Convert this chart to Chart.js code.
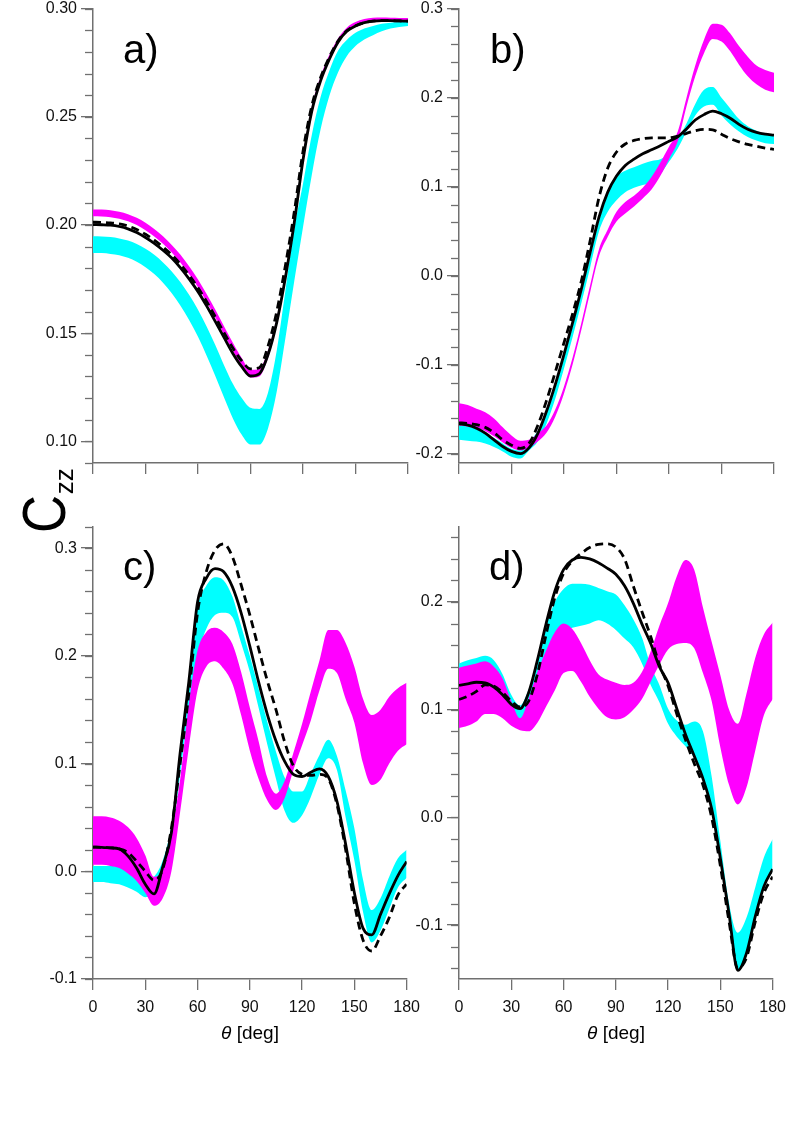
<!DOCTYPE html>
<html>
<head>
<meta charset="utf-8">
<script src="https://cdn.jsdelivr.net/npm/chart.js@4.4.1/dist/chart.umd.min.js"></script>
<style>
  body { margin: 0; width: 801px; height: 1144px; background: #fff; position: relative; overflow: hidden;
         font-family: "Liberation Sans", Arial, sans-serif; color: #000; }
  canvas { position: absolute; }
  .tag { position: absolute; font-size: 40px; line-height: 40px; }
  .xt { position: absolute; width: 200px; text-align: center; font-size: 19px; line-height: 20px; }
  .czz { position: absolute; left: 13px; top: 533px; transform-origin: 0 0; transform: rotate(-90deg);
         font-size: 62px; line-height: 62px; white-space: nowrap; }
  .czz .c { display: inline-block; transform: scaleX(0.85); transform-origin: 0 0; }
  .czz .zz { font-size: 26px; position: relative; top: 8px; margin-left: -6px; }
</style>
</head>
<body>
<canvas id="pa" width="428" height="488" style="left:0px;top:-5px"></canvas>
<canvas id="pb" width="428" height="488" style="left:366px;top:-5px"></canvas>
<canvas id="pc" width="428" height="526" style="left:0px;top:513px"></canvas>
<canvas id="pd" width="428" height="526" style="left:366px;top:513px"></canvas>

<div class="tag" style="left:123px;top:29px">a)</div>
<div class="tag" style="left:490px;top:29px">b)</div>
<div class="tag" style="left:123px;top:546px">c)</div>
<div class="tag" style="left:489px;top:546px">d)</div>
<div class="czz"><span class="c">C</span><span class="zz">zz</span></div>
<div class="xt" style="left:150px;top:1023px"><i>θ</i> [deg]</div>
<div class="xt" style="left:516px;top:1023px"><i>θ</i> [deg]</div>

<script>
// scattering angle grid, every 5 degrees
const THETA = [0, 5, 10, 15, 20, 25, 30, 35, 40, 45, 50, 55, 60, 65, 70, 75, 80, 85, 90,
               95, 100, 105, 110, 115, 120, 125, 130, 135, 140, 145, 150, 155, 160, 165, 170, 175, 180];
const X_TICKS = [0, 30, 60, 90, 120, 150, 180];

// panel a)
const A_SOLID = [0.2002, 0.2001, 0.1999, 0.1993, 0.1982, 0.1965, 0.1942, 0.1915, 0.1883, 0.1847,
                 0.1802, 0.1750, 0.1692, 0.1625, 0.1552, 0.1478, 0.1405, 0.1345, 0.1302, 0.1312,
                 0.1400, 0.1550, 0.1760, 0.2010, 0.2300, 0.2525, 0.2665, 0.2765, 0.2845, 0.2895,
                 0.2920, 0.2935, 0.2942, 0.2944, 0.2944, 0.2943, 0.2942];
const A_DASH = [0.2013, 0.2012, 0.2010, 0.2005, 0.1995, 0.1979, 0.1957, 0.1930, 0.1898, 0.1862,
                0.1818, 0.1767, 0.1710, 0.1645, 0.1574, 0.1500, 0.1430, 0.1372, 0.1335, 0.1340,
                0.1440, 0.1600, 0.1815, 0.2060, 0.2340, 0.2550, 0.2680, 0.2775, 0.2850, 0.2897,
                0.2921, 0.2935, 0.2942, 0.2944, 0.2944, 0.2943, 0.2942];
const A_MAG_LO = [0.2040, 0.2039, 0.2036, 0.2029, 0.2017, 0.2000, 0.1976, 0.1947, 0.1913, 0.1873,
                  0.1826, 0.1772, 0.1712, 0.1643, 0.1570, 0.1492, 0.1418, 0.1350, 0.1295, 0.1300,
                  0.1385, 0.1535, 0.1745, 0.1995, 0.2290, 0.2515, 0.2660, 0.2763, 0.2845, 0.2898,
                  0.2925, 0.2940, 0.2946, 0.2947, 0.2947, 0.2946, 0.2945];
const A_MAG_HI = [0.2072, 0.2071, 0.2068, 0.2061, 0.2050, 0.2033, 0.2010, 0.1982, 0.1948, 0.1908,
                  0.1862, 0.1808, 0.1748, 0.1680, 0.1607, 0.1530, 0.1455, 0.1385, 0.1330, 0.1335,
                  0.1420, 0.1570, 0.1780, 0.2030, 0.2325, 0.2545, 0.2685, 0.2785, 0.2862, 0.2912,
                  0.2938, 0.2952, 0.2958, 0.2959, 0.2958, 0.2957, 0.2956];
const A_CYAN_LO = [0.1870, 0.1870, 0.1866, 0.1860, 0.1848, 0.1830, 0.1805, 0.1773, 0.1733, 0.1685,
                   0.1627, 0.1560, 0.1483, 0.1395, 0.1300, 0.1200, 0.1105, 0.1030, 0.0985, 0.0985,
                   0.1060, 0.1230, 0.1480, 0.1740, 0.1990, 0.2230, 0.2440, 0.2595, 0.2705, 0.2780,
                   0.2827, 0.2857, 0.2877, 0.2895, 0.2908, 0.2915, 0.2920];
const A_CYAN_HI = [0.1948, 0.1947, 0.1944, 0.1938, 0.1928, 0.1912, 0.1890, 0.1862, 0.1827, 0.1785,
                   0.1735, 0.1676, 0.1608, 0.1530, 0.1443, 0.1350, 0.1265, 0.1200, 0.1155, 0.1150,
                   0.1225, 0.1420, 0.1700, 0.1980, 0.2190, 0.2415, 0.2590, 0.2712, 0.2805, 0.2855,
                   0.2888, 0.2908, 0.2920, 0.2930, 0.2935, 0.2938, 0.2939];

// panel b)
const B_SOLID = [-0.1660, -0.1675, -0.1710, -0.1765, -0.1840, -0.1915, -0.1970, -0.1995, -0.1930, -0.1770,
                 -0.1520, -0.1220, -0.0880, -0.0520, -0.0140, 0.0270, 0.0660, 0.0940, 0.1120, 0.1240,
                 0.1310, 0.1370, 0.1415, 0.1460, 0.1510, 0.1560, 0.1650, 0.1750, 0.1810, 0.1850,
                 0.1820, 0.1770, 0.1700, 0.1645, 0.1610, 0.1590, 0.1580];
const B_DASH = [-0.1650, -0.1655, -0.1670, -0.1700, -0.1760, -0.1840, -0.1900, -0.1935, -0.1880, -0.1680,
                -0.1400, -0.1080, -0.0750, -0.0420, -0.0050, 0.0400, 0.0880, 0.1210, 0.1390, 0.1480,
                0.1520, 0.1540, 0.1550, 0.1550, 0.1550, 0.1570, 0.1600, 0.1630, 0.1645, 0.1640,
                0.1590, 0.1540, 0.1505, 0.1475, 0.1455, 0.1435, 0.1420];
const B_MAG_LO = [-0.168, -0.169, -0.171, -0.174, -0.180, -0.187, -0.193, -0.196, -0.193, -0.186,
                  -0.176, -0.158, -0.132, -0.099, -0.060, -0.018, 0.022, 0.044, 0.061, 0.070,
                  0.078, 0.087, 0.097, 0.112, 0.131, 0.151, 0.190, 0.224, 0.250, 0.266,
                  0.263, 0.252, 0.237, 0.224, 0.215, 0.209, 0.206];
const B_MAG_HI = [-0.143, -0.145, -0.149, -0.153, -0.160, -0.170, -0.179, -0.185, -0.184, -0.177,
                  -0.168, -0.150, -0.124, -0.091, -0.052, -0.010, 0.030, 0.052, 0.072, 0.083,
                  0.090, 0.099, 0.111, 0.127, 0.145, 0.162, 0.200, 0.236, 0.265, 0.283,
                  0.282, 0.272, 0.258, 0.246, 0.236, 0.231, 0.228];
const B_CYAN_LO = [-0.184, -0.185, -0.186, -0.188, -0.192, -0.197, -0.203, -0.205, -0.196, -0.186,
                   -0.166, -0.138, -0.104, -0.068, -0.030, 0.010, 0.050, 0.072, 0.085, 0.094,
                   0.099, 0.102, 0.105, 0.114, 0.128, 0.143, 0.162, 0.180, 0.190, 0.192,
                   0.180, 0.170, 0.162, 0.156, 0.152, 0.149, 0.148];
const B_CYAN_HI = [-0.168, -0.169, -0.172, -0.177, -0.182, -0.188, -0.194, -0.196, -0.186, -0.174,
                   -0.154, -0.126, -0.092, -0.056, -0.018, 0.022, 0.062, 0.092, 0.111, 0.118,
                   0.122, 0.126, 0.129, 0.131, 0.137, 0.153, 0.171, 0.193, 0.209, 0.212,
                   0.200, 0.188, 0.176, 0.168, 0.163, 0.159, 0.157];

// panel c)
const C_SOLID = [0.0224, 0.0222, 0.0217, 0.0208, 0.0143, 0.0030, -0.0120, -0.0210, 0.0040, 0.0360,
                 0.1100, 0.1760, 0.2500, 0.2720, 0.2810, 0.2780, 0.2640, 0.2400, 0.2090, 0.1760,
                 0.1460, 0.1210, 0.1020, 0.0900, 0.0880, 0.0920, 0.0950, 0.0880, 0.0650, 0.0250,
                 -0.0200, -0.0530, -0.0590, -0.0400, -0.0210, -0.0040, 0.0090];
const C_DASH = [0.0224, 0.0222, 0.0218, 0.0208, 0.0175, 0.0094, 0.0000, -0.0084, 0.0020, 0.0400,
                0.1000, 0.1650, 0.2400, 0.2780, 0.2980, 0.3040, 0.2920, 0.2660, 0.2380, 0.2070,
                0.1770, 0.1500, 0.1200, 0.0980, 0.0900, 0.0890, 0.0900, 0.0860, 0.0620, 0.0200,
                -0.0300, -0.0640, -0.0740, -0.0600, -0.0430, -0.0220, -0.0120];
const C_MAG_LO = [0.006, 0.006, 0.005, 0.003, -0.002, -0.009, -0.020, -0.032, -0.025, 0.000,
                  0.055, 0.115, 0.168, 0.190, 0.195, 0.188, 0.174, 0.145, 0.112, 0.086,
                  0.066, 0.057, 0.068, 0.094, 0.117, 0.140, 0.168, 0.188, 0.184, 0.160,
                  0.138, 0.100, 0.080, 0.085, 0.100, 0.112, 0.118];
const C_MAG_HI = [0.051, 0.051, 0.050, 0.047, 0.041, 0.031, 0.015, -0.005, 0.002, 0.035,
                  0.085, 0.155, 0.205, 0.222, 0.226, 0.222, 0.211, 0.185, 0.152, 0.121,
                  0.087, 0.072, 0.084, 0.110, 0.137, 0.167, 0.196, 0.224, 0.224, 0.212,
                  0.190, 0.160, 0.145, 0.150, 0.162, 0.170, 0.175];
const C_CYAN_LO = [-0.010, -0.010, -0.011, -0.012, -0.015, -0.019, -0.024, -0.020, -0.003, 0.028,
                   0.090, 0.150, 0.200, 0.225, 0.238, 0.240, 0.236, 0.212, 0.185, 0.152,
                   0.118, 0.086, 0.056, 0.045, 0.052, 0.069, 0.090, 0.105, 0.094, 0.050,
                   0.010, -0.038, -0.066, -0.055, -0.035, -0.015, -0.006];
const C_CYAN_HI = [0.005, 0.005, 0.005, 0.004, 0.000, -0.004, -0.008, -0.005, 0.010, 0.043,
                   0.110, 0.180, 0.245, 0.265, 0.273, 0.270, 0.255, 0.228, 0.200, 0.170,
                   0.139, 0.111, 0.087, 0.074, 0.074, 0.091, 0.108, 0.122, 0.107, 0.075,
                   0.040, -0.008, -0.036, -0.025, -0.005, 0.012, 0.020];

// panel d)
const D_SOLID = [0.1225, 0.1240, 0.1255, 0.1250, 0.1210, 0.1140, 0.1050, 0.1010, 0.1160, 0.1460,
                 0.1800, 0.2100, 0.2300, 0.2390, 0.2415, 0.2400, 0.2365, 0.2315, 0.2257, 0.2150,
                 0.1990, 0.1795, 0.1615, 0.1400, 0.1250, 0.1010, 0.0770, 0.0570, 0.0360, 0.0080,
                 -0.0380, -0.0900, -0.1420, -0.1260, -0.0920, -0.0640, -0.0480];
const D_DASH = [0.1095, 0.1125, 0.1170, 0.1230, 0.1220, 0.1160, 0.1080, 0.1025, 0.1080, 0.1330,
                0.1700, 0.2040, 0.2265, 0.2380, 0.2450, 0.2505, 0.2535, 0.2540, 0.2510, 0.2400,
                0.2150, 0.1910, 0.1680, 0.1420, 0.1220, 0.0960, 0.0720, 0.0500, 0.0300, 0.0000,
                -0.0450, -0.0970, -0.1400, -0.1300, -0.0970, -0.0700, -0.0550];
const D_MAG_LO = [0.083, 0.085, 0.089, 0.096, 0.096, 0.092, 0.085, 0.081, 0.080, 0.088,
                  0.103, 0.118, 0.134, 0.136, 0.126, 0.112, 0.101, 0.093, 0.091, 0.093,
                  0.100, 0.110, 0.126, 0.142, 0.156, 0.161, 0.162, 0.157, 0.134, 0.108,
                  0.065, 0.030, 0.012, 0.028, 0.062, 0.095, 0.110];
const D_MAG_HI = [0.139, 0.141, 0.143, 0.145, 0.140, 0.129, 0.108, 0.092, 0.110, 0.135,
                  0.155, 0.172, 0.180, 0.175, 0.162, 0.146, 0.133, 0.128, 0.125, 0.123,
                  0.125, 0.135, 0.154, 0.178, 0.199, 0.224, 0.239, 0.230, 0.195, 0.163,
                  0.132, 0.100, 0.087, 0.115, 0.148, 0.170, 0.181];
const D_CYAN_LO = [0.118, 0.119, 0.121, 0.122, 0.117, 0.107, 0.094, 0.089, 0.100, 0.125,
                   0.150, 0.165, 0.172, 0.176, 0.178, 0.180, 0.183, 0.180, 0.174, 0.166,
                   0.158, 0.143, 0.123, 0.107, 0.087, 0.075, 0.066, 0.055, 0.035, 0.006,
                   -0.040, -0.092, -0.142, -0.126, -0.094, -0.066, -0.050];
const D_CYAN_HI = [0.143, 0.146, 0.148, 0.150, 0.146, 0.133, 0.114, 0.104, 0.119, 0.145,
                   0.178, 0.200, 0.212, 0.217, 0.217, 0.216, 0.213, 0.210, 0.207, 0.197,
                   0.184, 0.167, 0.141, 0.123, 0.101, 0.090, 0.086, 0.089, 0.080, 0.038,
                   -0.022, -0.080, -0.107, -0.093, -0.065, -0.037, -0.020];

// y tick labels of each panel
const A_TICKS = [0.10, 0.15, 0.20, 0.25, 0.30];
const B_TICKS = [-0.2, -0.1, 0.0, 0.1, 0.2, 0.3];
const C_TICKS = [-0.1, 0.0, 0.1, 0.2, 0.3];
const D_TICKS = [-0.1, 0.0, 0.1, 0.2];

const GREY = '#707070';
const MAGENTA = '#ff00ff';
const CYAN = '#00ffff';
Chart.defaults.font.family = "'Liberation Sans', Arial, sans-serif";
Chart.defaults.font.size = 16;

function steps(from, to, step) {
    let out = [];
    for (let v = from; v <= to + 1e-9; v += step) out.push(Math.round(v * 1000) / 1000);
    return out;
}

// short unlabelled ticks between the labelled ones
const minorTicks = {
    id: 'minorTicks',
    afterDraw(chart, args, opts) {
        const y = chart.scales.y, ctx = chart.ctx, left = chart.chartArea.left;
        ctx.save();
        ctx.strokeStyle = GREY;
        ctx.lineWidth = 1.3;
        for (let v of opts.values) {
            const py = Math.round(y.getPixelForValue(v)) + 0.5;
            ctx.beginPath();
            ctx.moveTo(left - 8, py);
            ctx.lineTo(left, py);
            ctx.stroke();
        }
        ctx.restore();
    }
};

function pts(ys) {
    return THETA.map((t, i) => ({ x: t, y: ys[i] }));
}

function band(ys, color, fill) {
    return { data: pts(ys), backgroundColor: color, borderColor: 'rgba(0,0,0,0)', borderWidth: 0,
             pointRadius: 0, fill: fill, cubicInterpolationMode: 'monotone' };
}

function panel(id, p) {
    new Chart(document.getElementById(id), {
        type: 'line',
        data: {
            datasets: [
                { data: pts(p.solid), borderColor: '#000', borderWidth: 2.8, pointRadius: 0,
                  fill: false, cubicInterpolationMode: 'monotone' },
                { data: pts(p.dash), borderColor: '#000', borderWidth: 2.8, borderDash: [8, 5], pointRadius: 0,
                  fill: false, cubicInterpolationMode: 'monotone' },
                band(p.magHi, MAGENTA, '+1'),
                band(p.magLo, MAGENTA, false),
                band(p.cyanHi, CYAN, '+1'),
                band(p.cyanLo, CYAN, false)
            ]
        },
        options: {
            responsive: false,
            animation: false,
            devicePixelRatio: 1,
            events: [],
            layout: { padding: { top: 12, right: 20, left: 0, bottom: 0 } },
            plugins: {
                legend: { display: false },
                tooltip: { enabled: false },
                minorTicks: { values: p.minor }
            },
            scales: {
                x: {
                    type: 'linear', min: 0, max: 180,
                    afterBuildTicks: (ax) => { ax.ticks = X_TICKS.map(v => ({ value: v })); },
                    afterFit: (ax) => { ax.height = p.xh; },
                    grid: { drawOnChartArea: false, tickLength: 11, color: GREY, lineWidth: 1.3 },
                    border: { display: true, color: GREY, width: 1.5 },
                    ticks: { autoSkip: false, maxRotation: 0, padding: 8, color: '#111',
                             callback: (v) => p.xLabels ? String(v) : '' }
                },
                y: {
                    type: 'linear', min: p.min, max: p.max,
                    afterBuildTicks: (ax) => { ax.ticks = p.major.map(v => ({ value: v })); },
                    afterFit: (ax) => { ax.width = 93; },
                    grid: { drawOnChartArea: false, tickLength: 12, color: GREY, lineWidth: 1.3 },
                    border: { display: true, color: GREY, width: 1.5 },
                    ticks: { autoSkip: false, padding: 4, color: '#111',
                             callback: (v) => Number(v).toFixed(p.dec) }
                }
            }
        },
        plugins: [minorTicks]
    });
}

panel('pa', { solid: A_SOLID, dash: A_DASH, magLo: A_MAG_LO, magHi: A_MAG_HI, cyanLo: A_CYAN_LO, cyanHi: A_CYAN_HI,
              min: 0.09, max: 0.30, major: A_TICKS, minor: steps(0.09, 0.30, 0.01), dec: 2, xh: 20, xLabels: false });
panel('pb', { solid: B_SOLID, dash: B_DASH, magLo: B_MAG_LO, magHi: B_MAG_HI, cyanLo: B_CYAN_LO, cyanHi: B_CYAN_HI,
              min: -0.21, max: 0.30, major: B_TICKS, minor: steps(-0.20, 0.30, 0.02), dec: 1, xh: 20, xLabels: false });
panel('pc', { solid: C_SOLID, dash: C_DASH, magLo: C_MAG_LO, magHi: C_MAG_HI, cyanLo: C_CYAN_LO, cyanHi: C_CYAN_HI,
              min: -0.10, max: 0.32, major: C_TICKS, minor: steps(-0.10, 0.32, 0.02), dec: 1, xh: 60, xLabels: true });
panel('pd', { solid: D_SOLID, dash: D_DASH, magLo: D_MAG_LO, magHi: D_MAG_HI, cyanLo: D_CYAN_LO, cyanHi: D_CYAN_HI,
              min: -0.15, max: 0.27, major: D_TICKS, minor: steps(-0.14, 0.26, 0.02), dec: 1, xh: 60, xLabels: true });
</script>
</body>
</html>
